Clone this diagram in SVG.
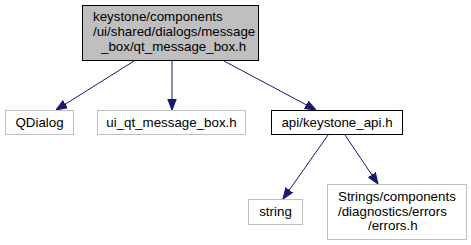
<svg xmlns="http://www.w3.org/2000/svg" width="471" height="245" viewBox="0 0 471 245">
<defs>
<style>
text{font-family:"Liberation Sans",Arial,sans-serif;font-size:13.33px;fill:#000}
.e{fill:none;stroke:#191970;stroke-width:1}
.g{fill:#fff;stroke:#bfbfbf}
.b{fill:#fff;stroke:#000}
.m{text-anchor:middle}
</style>
<marker id="a" viewBox="0 0 10 10" refX="10" refY="5" markerWidth="11" markerHeight="11" markerUnits="userSpaceOnUse" orient="auto">
<path d="M0,1.2 L10,5 L0,8.8 Z" fill="#191970" stroke="#191970"/>
</marker>
</defs>
<rect width="471" height="245" fill="#fff"/>
<g id="connectors">
<line class="e" x1="134" y1="61" x2="56" y2="110" marker-end="url(#a)"/>
<line class="e" x1="172" y1="61" x2="172" y2="110" marker-end="url(#a)"/>
<line class="e" x1="224" y1="61" x2="316" y2="110" marker-end="url(#a)"/>
<line class="e" x1="328" y1="135" x2="283" y2="199" marker-end="url(#a)"/>
<line class="e" x1="345" y1="135" x2="378" y2="184" marker-end="url(#a)"/>
</g>
<g id="node-main">
<rect x="82.5" y="5.5" width="176" height="55" fill="#bfbfbf" stroke="#000"/>
<text x="93" y="21">keystone/components</text>
<text x="93" y="36">/ui/shared/dialogs/message</text>
<text x="101" y="51">_box/qt_message_box.h</text>
</g>
<g id="node-qdialog">
<rect class="g" x="5.5" y="110.5" width="68" height="24"/>
<text class="m" x="39.5" y="127">QDialog</text>
</g>
<g id="node-ui">
<rect class="g" x="97.5" y="110.5" width="148" height="24"/>
<text class="m" x="171.5" y="127">ui_qt_message_box.h</text>
</g>
<g id="node-api">
<rect class="b" x="271.5" y="110.5" width="131" height="24"/>
<text class="m" x="337" y="127">api/keystone_api.h</text>
</g>
<g id="node-string">
<rect class="g" x="248.5" y="199.5" width="54" height="25"/>
<text class="m" x="275.5" y="216">string</text>
</g>
<g id="node-errors">
<rect class="g" x="327.5" y="184.5" width="139" height="55"/>
<text x="338" y="201">Strings/components</text>
<text x="338" y="216">/diagnostics/errors</text>
<text x="368" y="230">/errors.h</text>
</g>
</svg>
